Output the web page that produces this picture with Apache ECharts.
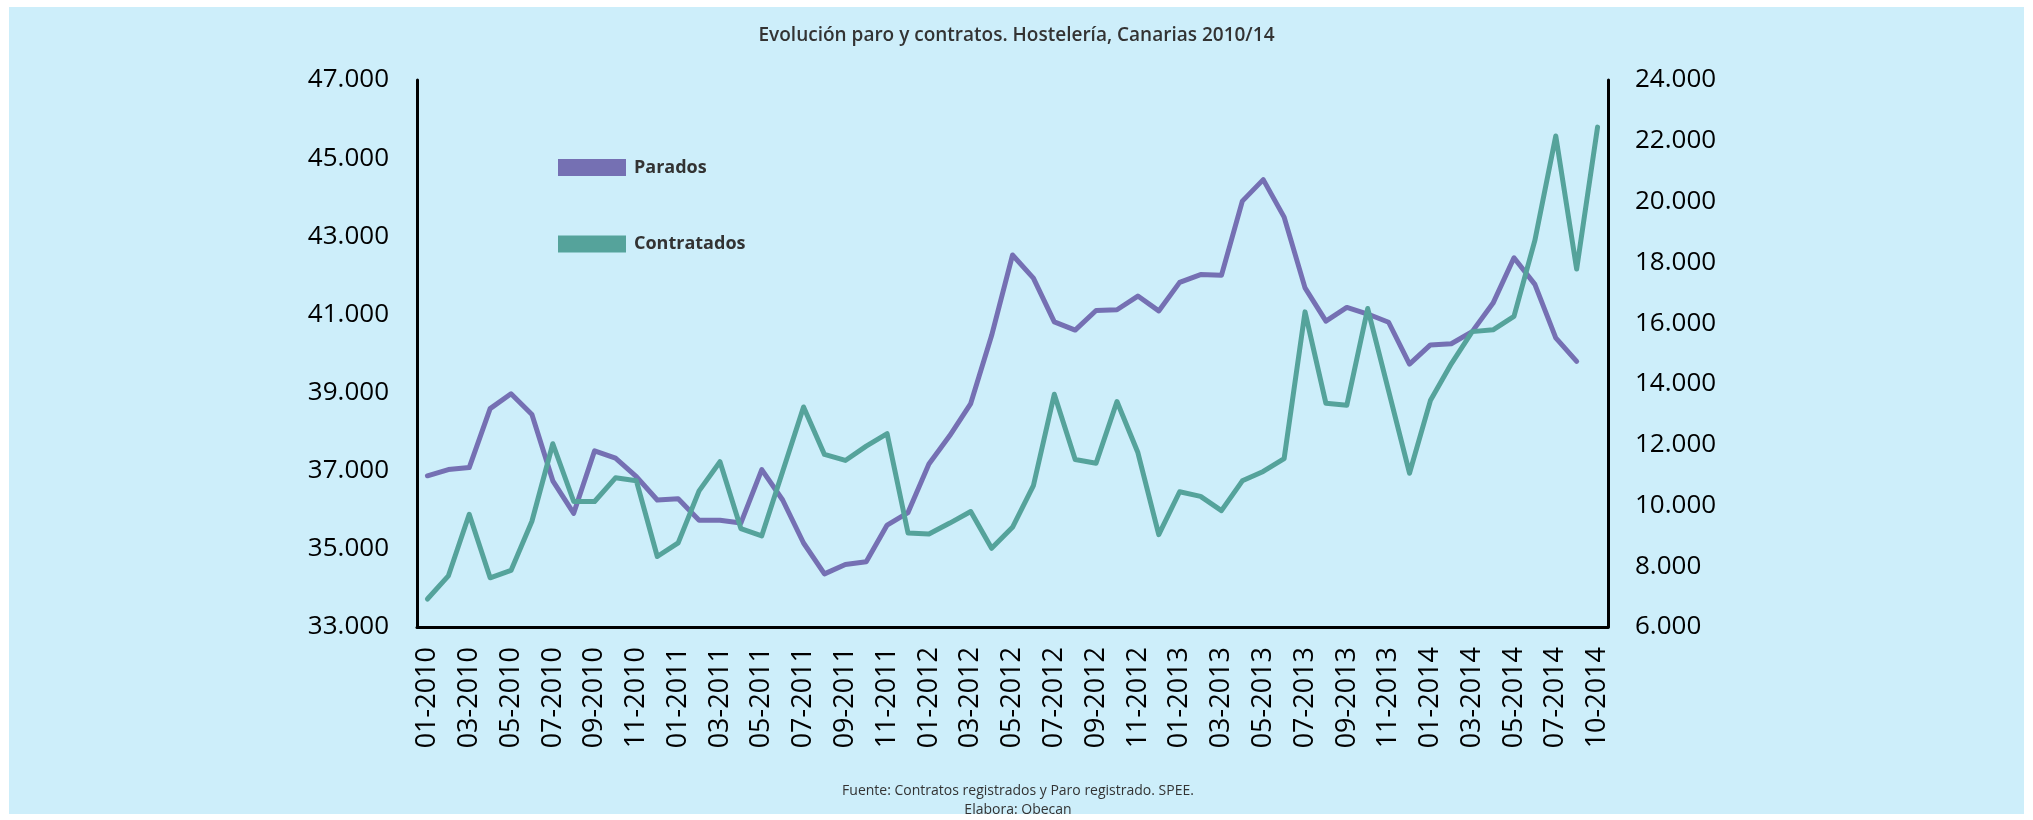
<!DOCTYPE html>
<html>
<head>
<meta charset="utf-8">
<script src="https://cdn.jsdelivr.net/npm/echarts@6/dist/echarts.min.js"></script>
<style>
html,body{margin:0;padding:0;background:#ffffff;}
#chart{width:2033px;height:820px;}
</style>
</head>
<body>
<div id="chart"></div>
<script>
const categories = [
  '01-2010','02-2010','03-2010','04-2010','05-2010','06-2010','07-2010','08-2010','09-2010','10-2010','11-2010','12-2010',
  '01-2011','02-2011','03-2011','04-2011','05-2011','06-2011','07-2011','08-2011','09-2011','10-2011','11-2011','12-2011',
  '01-2012','02-2012','03-2012','04-2012','05-2012','06-2012','07-2012','08-2012','09-2012','10-2012','11-2012','12-2012',
  '01-2013','02-2013','03-2013','04-2013','05-2013','06-2013','07-2013','08-2013','09-2013','10-2013','11-2013','12-2013',
  '01-2014','02-2014','03-2014','04-2014','05-2014','06-2014','07-2014','08-2014','10-2014'
];
const parados = [
  36870, 37030, 37080, 38590, 38970, 38440, 36740, 35910, 37510, 37320, 36850, 36250,
  36280, 35730, 35730, 35660, 37030, 36250, 35150, 34360, 34600, 34670, 35610, 35930,
  37170, 37900, 38720, 40460, 42520, 41930, 40810, 40600, 41100, 41120, 41470, 41090,
  41820, 42020, 42000, 43900, 44450, 43490, 41680, 40830, 41180, 41010, 40800, 39730,
  40220, 40250, 40560, 41290, 42450, 41770, 40400, 39800
];
const contratados = [
  6920, 7680, 9710, 7620, 7860, 9480, 12030, 10130, 10130, 10910, 10810, 8320,
  8770, 10480, 11440, 9240, 9000, 11120, 13240, 11680, 11480, 11950, 12360, 9090,
  9060, 9420, 9800, 8590, 9280, 10650, 13660, 11510, 11390, 13420, 11740, 9040,
  10450, 10300, 9830, 10810, 11120, 11540, 16370, 13360, 13300, 16480, 13770, 11060,
  13450, 14660, 15720, 15780, 16220, 18720, 22160, 17780, 22450
];
const seriesNames = ['Parados', 'Contratados'];
const leftTicks = { min: 33000, max: 47000, step: 2000 };
const rightTicks = { min: 6000, max: 24000, step: 2000 };

const fmt = v => String(v).replace(/\B(?=(\d{3})+(?!\d))/g, '.');
const FONT = '"Open Sans", "Noto Sans", sans-serif';

const chart = echarts.init(document.getElementById('chart'), null, {renderer: 'canvas'});
chart.setOption({
  animation: false,
  backgroundColor: 'transparent',
  graphic: [{
    type: 'rect', z: -10, silent: true,
    shape: {x: 9, y: 7, width: 2015, height: 807},
    style: {fill: '#cdeefa'}
  }, {
    type: 'text', z: 10, silent: true,
    x: 1018, y: 782,
    style: {
      text: 'Fuente: Contratos registrados y Paro registrado. SPEE.\nElabora: Obecan',
      align: 'center', verticalAlign: 'top',
      font: '14px ' + FONT, lineHeight: 19, fill: '#333333'
    }
  }],
  title: {
    text: 'Evolución paro y contratos. Hostelería, Canarias 2010/14',
    left: 'center', top: 21,
    textStyle: {fontFamily: FONT, fontSize: 19, fontWeight: 600, color: '#333333'}
  },
  legend: {
    orient: 'vertical', left: 553, top: 152.5,
    itemWidth: 68, itemHeight: 17, itemGap: 56.5,
    icon: 'rect',
    textStyle: {fontFamily: FONT, fontSize: 18, fontWeight: 'bold', color: '#333333', lineHeight: 20, padding: [0,0,0,3]},
    data: seriesNames
  },
  grid: {left: 417, right: 425, top: 80, bottom: 193, containLabel: false},
  xAxis: {
    type: 'category', data: categories, boundaryGap: true,
    axisLine: {show: true, lineStyle: {color: '#000000', width: 3}},
    axisTick: {show: false},
    axisLabel: {interval: 1, rotate: 90, margin: 20, fontFamily: FONT, fontSize: 27, color: '#000000'},
    splitLine: {show: false}
  },
  yAxis: [{
    type: 'value', position: 'left',
    min: leftTicks.min, max: leftTicks.max, interval: leftTicks.step,
    axisLine: {show: true, lineStyle: {color: '#000000', width: 3}},
    axisTick: {show: false},
    splitLine: {show: false},
    axisLabel: {margin: 28, fontFamily: FONT, fontSize: 26, color: '#000000', formatter: fmt}
  }, {
    type: 'value', position: 'right',
    min: rightTicks.min, max: rightTicks.max, interval: rightTicks.step,
    axisLine: {show: true, lineStyle: {color: '#000000', width: 3}},
    axisTick: {show: false},
    splitLine: {show: false},
    axisLabel: {margin: 27, fontFamily: FONT, fontSize: 26, color: '#000000', formatter: fmt}
  }],
  series: [{
    name: seriesNames[0], type: 'line', yAxisIndex: 0,
    data: parados, symbol: 'none', showSymbol: false,
    itemStyle: {color: '#7570b3'},
    lineStyle: {color: '#7570b3', width: 5, cap: 'round', join: 'round'}
  }, {
    name: seriesNames[1], type: 'line', yAxisIndex: 1,
    data: contratados, symbol: 'none', showSymbol: false,
    itemStyle: {color: '#55a39b'},
    lineStyle: {color: '#55a39b', width: 5, cap: 'round', join: 'round'}
  }]
});
</script>
</body>
</html>
